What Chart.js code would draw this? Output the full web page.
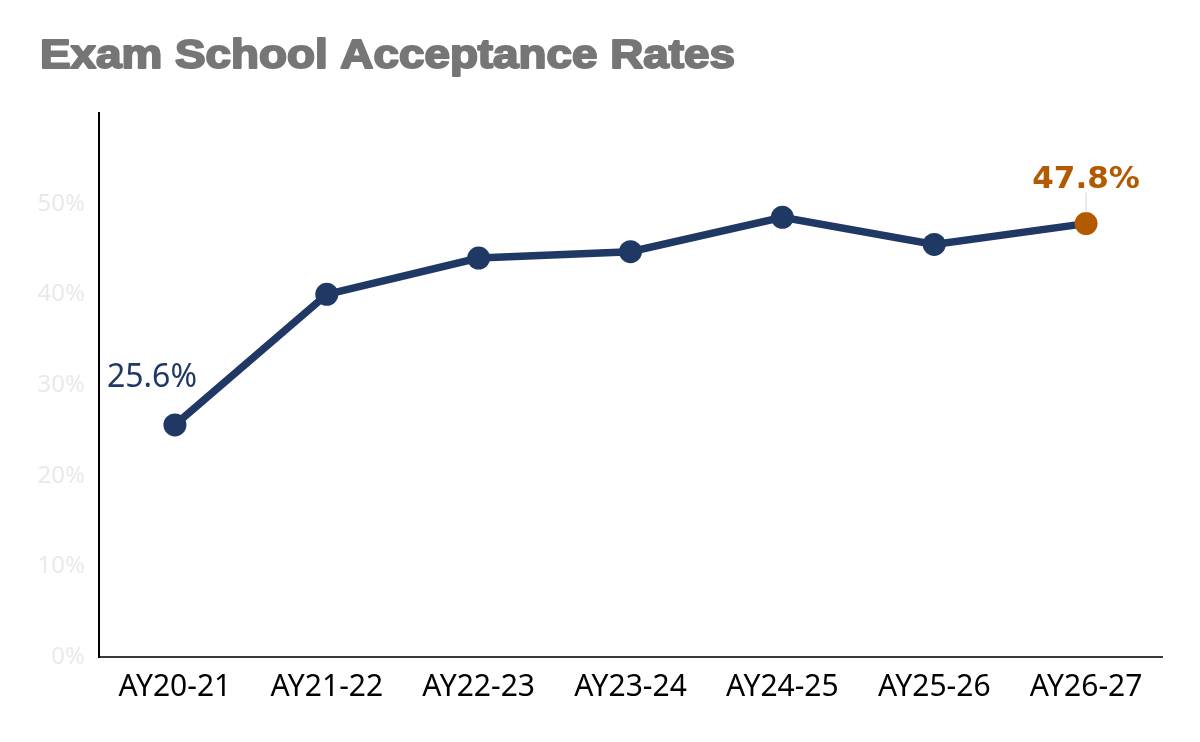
<!DOCTYPE html>
<html>
<head>
<meta charset="utf-8">
<script src="https://cdn.jsdelivr.net/npm/chart.js@4"></script>
<style>
html, body { margin: 0; padding: 0; background: #fff; }
#wrap { width: 1200px; height: 742px; }
</style>
</head>
<body>
<div id="wrap"><canvas id="rateChart"></canvas></div>
<script>
// data
const years = ["AY20-21", "AY21-22", "AY22-23", "AY23-24", "AY24-25", "AY25-26", "AY26-27"];
const acceptRate = [0.256, 0.400, 0.440, 0.447, 0.485, 0.455, 0.478];
const rateTicks = [0, 0.1, 0.2, 0.3, 0.4, 0.5];
const chartTitle = "Exam School Acceptance Rates";

const NAVY = "#203864";
const ORANGE = "#b35a00";
const lastIdx = acceptRate.length - 1;

const titlePlugin = {
  id: "bigTitle",
  afterDraw(chart) {
    const ctx = chart.ctx;
    ctx.save();
    ctx.font = "bold 40px 'Liberation Sans', Arial, sans-serif";
    ctx.fillStyle = "#767676";
    ctx.textBaseline = "alphabetic";
    ctx.textAlign = "left";
    const w = ctx.measureText(chartTitle).width;
    const sx = 695 / w;
    ctx.translate(40, 68);
    ctx.scale(sx, 1);
    // stroke a little to get the heavy look
    ctx.strokeStyle = "#767676";
    ctx.lineWidth = 2;
    ctx.lineJoin = "round";
    ctx.fillText(chartTitle, 0, 0);
    ctx.strokeText(chartTitle, 0, 0);
    ctx.restore();
  }
};

const labelPlugin = {
  id: "endLabels",
  afterDatasetsDraw(chart) {
    const ctx = chart.ctx;
    const pts = chart.getDatasetMeta(0).data;
    const first = pts[0], last = pts[lastIdx];
    ctx.save();
    ctx.textAlign = "center";
    ctx.textBaseline = "alphabetic";

    ctx.font = "32px 'Noto Sans', sans-serif";
    ctx.fillStyle = NAVY;
    ctx.fillText((acceptRate[0] * 100).toFixed(1) + "%", first.x - 23, first.y - 38);

    ctx.strokeStyle = "#e2e2e2";
    ctx.lineWidth = 1.5;
    ctx.beginPath();
    ctx.moveTo(last.x, last.y - 31);
    ctx.lineTo(last.x, last.y - 11);
    ctx.stroke();

    ctx.font = "bold 31px 'DejaVu Sans', sans-serif";
    ctx.fillStyle = ORANGE;
    ctx.fillText((acceptRate[lastIdx] * 100).toFixed(1) + "%", last.x, last.y - 36);
    ctx.restore();
  }
};

new Chart(document.getElementById("rateChart"), {
  type: "line",
  data: {
    labels: years,
    datasets: [{
      data: acceptRate,
      borderColor: NAVY,
      borderWidth: 7.5,
      tension: 0,
      pointRadius: 11.5,
      pointHoverRadius: 11.5,
      pointBorderWidth: 0,
      pointBackgroundColor: c => c.dataIndex === lastIdx ? ORANGE : NAVY,
      pointBorderColor: c => c.dataIndex === lastIdx ? ORANGE : NAVY
    }]
  },
  options: {
    responsive: true,
    maintainAspectRatio: false,
    animation: false,
    layout: { padding: { top: 113, right: 38, left: 0, bottom: 0 } },
    plugins: {
      legend: { display: false },
      tooltip: { enabled: false },
      title: { display: false }
    },
    scales: {
      x: {
        offset: true,
        grid: { display: false, drawTicks: false },
        border: { display: true, color: "#3a3a3a", width: 2 },
        ticks: {
          color: "#000",
          font: { family: "'Noto Sans', sans-serif", size: 30 },
          padding: 12,
          maxRotation: 0
        },
        afterFit(scale) { scale.height = 85; }
      },
      y: {
        min: 0,
        max: 0.6,
        grid: { display: false, drawTicks: false },
        border: { display: true, color: "#000", width: 2 },
        afterBuildTicks(scale) { scale.ticks = rateTicks.concat([0.6]).map(v => ({ value: v })); },
        ticks: {
          color: "#e9e9e9",
          font: { family: "'Noto Sans', sans-serif", size: 24 },
          padding: 14,
          callback: v => rateTicks.includes(Math.round(v * 10) / 10) && v < 0.55 ? Math.round(v * 100) + "%" : ""
        },
        afterFit(scale) { scale.width = 99; }
      }
    }
  },
  plugins: [titlePlugin, labelPlugin]
});
</script>
</body>
</html>
